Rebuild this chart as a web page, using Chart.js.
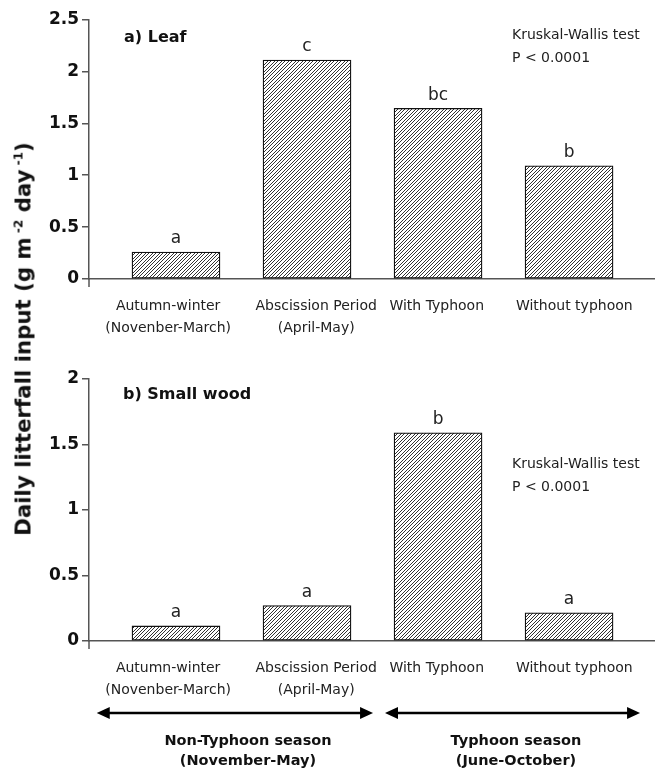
<!DOCTYPE html>
<html>
<head>
<meta charset="utf-8">
<script src="https://cdn.jsdelivr.net/npm/chart.js@4.4.1/dist/chart.umd.min.js"></script>
<style>
    body { margin: 0; background: #fff; }
    #wrap { position: relative; width: 655px; height: 772px; overflow: hidden; font-family: "DejaVu Sans", sans-serif; color: #111; }
    canvas { position: absolute; left: 0; }
    .note { position: absolute; white-space: nowrap; }
    .panel { font-weight: bold; font-size: 16px; line-height: 20px; }
    .kw { font-size: 14px; line-height: 23px; color: #222; }
    .season { font-weight: bold; font-size: 14.5px; line-height: 20px; width: 220px; text-align: center; }
    #ytitle { position: absolute; left: 23px; top: 339px; transform: translate(-50%, -50%) rotate(-90deg); font-weight: bold; font-size: 21.3px; white-space: nowrap; }
    #ytitle sup { font-size: 12px; }
</style>
</head>
<body>
<div id="wrap">
    <canvas id="leafChart" width="655" height="345" style="top:0"></canvas>
    <canvas id="woodChart" width="655" height="427" style="top:345px"></canvas>

    <div id="ytitle">Daily litterfall input (g m<sup> -2</sup> day<sup> -1</sup>)</div>

    <div class="note panel" style="left:124px; top:27px">a) Leaf</div>
    <div class="note panel" style="left:123px; top:384px">b) Small wood</div>

    <div class="note kw" style="left:512px; top:23px">Kruskal-Wallis test<br>P &lt; 0.0001</div>
    <div class="note kw" style="left:512px; top:452px">Kruskal-Wallis test<br>P &lt; 0.0001</div>

    <div class="note season" style="left:138px; top:730px">Non-Typhoon season<br>(November-May)</div>
    <div class="note season" style="left:406px; top:730px">Typhoon season<br>(June-October)</div>
</div>

<script>
// categories (same for both panels)
var categories = [
    ['Autumn-winter', '(Novenber-March)'],
    ['Abscission Period', '(April-May)'],
    'With Typhoon',
    'Without typhoon'
];

// a) Leaf
var leafValues = [0.26, 2.11, 1.645, 1.09];
var leafLetters = ['a', 'c', 'bc', 'b'];

// b) Small wood
var woodValues = [0.115, 0.27, 1.59, 0.215];
var woodLetters = ['a', 'a', 'b', 'a'];

// season arrows under panel b, in category units
var seasonFrom = [-0.605, 1.595];
var seasonTo = [1.504, 3.542];

var FONT = '"DejaVu Sans", sans-serif';
// the category labels sit slightly off the bar centres in the original
var labelPos = [-0.06, 1.07, 1.99, 3.04];

// 7x7 tile, two crisp "/" lines (about 3.5px apart)
function makeHatch() {
    var c = document.createElement('canvas');
    c.width = 7;
    c.height = 7;
    var g = c.getContext('2d');
    g.fillStyle = '#fff';
    g.fillRect(0, 0, 7, 7);
    g.fillStyle = '#333';
    for (var x = 0; x < 7; x++) {
        for (var y = 0; y < 7; y++) {
            var s = (x + y) % 7;
            if (s === 2 || s === 6) g.fillRect(x, y, 1, 1);
        }
    }
    return g.createPattern(c, 'repeat');
}

var barExtras = {
    id: 'barExtras',
    afterDatasetsDraw: function (chart, args, opts) {
        var ctx = chart.ctx;
        var meta = chart.getDatasetMeta(0);
        ctx.save();
        ctx.fillStyle = '#222';
        ctx.font = '17px ' + FONT;
        ctx.textAlign = 'center';
        ctx.textBaseline = 'middle';
        meta.data.forEach(function (bar, i) {
            ctx.fillText(opts.letters[i], bar.x, bar.y - 13);
        });
        // y axis runs a little below the origin
        var area = chart.chartArea;
        ctx.strokeStyle = '#555';
        ctx.lineWidth = 1.5;
        ctx.beginPath();
        ctx.moveTo(area.left, area.bottom);
        ctx.lineTo(area.left, area.bottom + 8);
        ctx.stroke();

        if (opts.arrows) {
            var xs = chart.scales.x;
            var y = opts.arrowY;
            ctx.fillStyle = '#000';
            ctx.strokeStyle = '#000';
            ctx.lineWidth = 2.5;
            for (var k = 0; k < seasonFrom.length; k++) {
                var x1 = xs.getPixelForValue(seasonFrom[k]);
                var x2 = xs.getPixelForValue(seasonTo[k]);
                ctx.beginPath();
                ctx.moveTo(x1 + 8, y);
                ctx.lineTo(x2 - 8, y);
                ctx.stroke();
                ctx.beginPath();
                ctx.moveTo(x1, y);
                ctx.lineTo(x1 + 13, y - 6);
                ctx.lineTo(x1 + 13, y + 6);
                ctx.closePath();
                ctx.fill();
                ctx.beginPath();
                ctx.moveTo(x2, y);
                ctx.lineTo(x2 - 13, y - 6);
                ctx.lineTo(x2 - 13, y + 6);
                ctx.closePath();
                ctx.fill();
            }
        }
        ctx.restore();
    }
};

function makeChart(id, values, letters, yMax, padTop, axisH, arrows) {
    return new Chart(document.getElementById(id), {
        type: 'bar',
        data: {
            datasets: [{
                data: values.map(function (v, i) { return { x: i, y: v }; }),
                backgroundColor: makeHatch(),
                borderColor: '#111',
                borderWidth: 1.3,
                borderSkipped: false,
                barThickness: 88
            }]
        },
        options: {
            responsive: false,
            animation: false,
            layout: { padding: { top: padTop, left: 0, right: 0, bottom: 0 } },
            plugins: {
                legend: { display: false },
                tooltip: { enabled: false },
                barExtras: { letters: letters, arrows: arrows, arrowY: 368 }
            },
            scales: {
                x: {
                    type: 'linear',
                    min: -0.664,
                    max: 3.656,
                    offset: false,
                    afterBuildTicks: function (s) {
                        s.ticks = labelPos.map(function (v) { return { value: v }; });
                    },
                    afterFit: function (s) { s.height = axisH; },
                    grid: { display: false, drawTicks: false },
                    border: { color: '#555', width: 1.5 },
                    ticks: {
                        autoSkip: false,
                        maxRotation: 0,
                        padding: 16,
                        color: '#222',
                        font: { family: FONT, size: 14, lineHeight: 1.57 },
                        callback: function (v, i) { return categories[i]; }
                    }
                },
                y: {
                    min: 0,
                    max: yMax,
                    afterFit: function (s) { s.width = 89; },
                    grid: { drawOnChartArea: false, tickLength: 7, color: '#555', lineWidth: 1.5 },
                    border: { color: '#555', width: 1.5 },
                    ticks: {
                        stepSize: 0.5,
                        padding: 3,
                        color: '#111',
                        font: { family: FONT, size: 17, weight: 'bold' },
                        callback: function (v) { return String(v); }
                    }
                }
            }
        },
        plugins: [barExtras]
    });
}

makeChart('leafChart', leafValues, leafLetters, 2.5, 19.5, 66, false);
makeChart('woodChart', woodValues, woodLetters, 2, 34, 131, true);
</script>
</body>
</html>
